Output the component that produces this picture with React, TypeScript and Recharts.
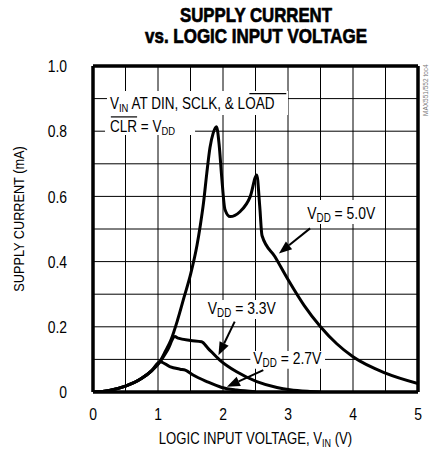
import React from "react";
import {
  LineChart,
  Line,
  XAxis,
  YAxis,
  CartesianGrid,
  ReferenceLine,
  ReferenceArea,
} from "recharts";

// ---- data ----
const xTicks = [0, 0.5, 1, 1.5, 2, 2.5, 3, 3.5, 4, 4.5, 5];
const yTicks = [0, 0.1, 0.2, 0.3, 0.4, 0.5, 0.6, 0.7, 0.8, 0.9, 1.0];

const vin50 = [0, 0.25, 0.5, 0.75, 0.9, 1.03, 1.1, 1.2, 1.3, 1.4, 1.5, 1.6, 1.65, 1.7, 1.75, 1.8, 1.85, 1.9, 1.94, 1.98, 2.03, 2.11, 2.26, 2.42, 2.52, 2.565, 2.6, 2.8, 3.0, 3.25, 3.5, 3.75, 4.0, 4.5, 5.0];
const idd50 = [0, 0.005, 0.018, 0.042, 0.065, 0.093, 0.12, 0.16, 0.22, 0.29, 0.36, 0.45, 0.51, 0.58, 0.67, 0.75, 0.795, 0.814, 0.76, 0.66, 0.56, 0.538, 0.553, 0.6, 0.666, 0.57, 0.48, 0.415, 0.345, 0.265, 0.2, 0.148, 0.108, 0.058, 0.026];

const vin33 = [0, 0.25, 0.5, 0.75, 0.9, 1.03, 1.15, 1.26, 1.31, 1.5, 1.67, 1.77, 1.95, 2.21, 2.52, 2.83, 3.03, 3.3, 3.5];
const idd33 = [0, 0.005, 0.018, 0.042, 0.065, 0.093, 0.13, 0.17, 0.165, 0.158, 0.154, 0.134, 0.098, 0.062, 0.032, 0.014, 0.007, 0.002, 0];

const vin27 = [0, 0.25, 0.5, 0.75, 0.9, 1.03, 1.18, 1.34, 1.42, 1.54, 1.75, 1.98, 2.21, 2.5];
const idd27 = [0, 0.005, 0.018, 0.042, 0.065, 0.093, 0.078, 0.07, 0.067, 0.052, 0.032, 0.014, 0.006, 0.001];

const toPoints = (xs: number[], ys: number[]) => xs.map((x, i) => ({ x, y: ys[i] }));
const data50 = toPoints(vin50, idd50);
const data33 = toPoints(vin33, idd33);
const data27 = toPoints(vin27, idd27);

const FONT = "'Liberation Sans', Arial, sans-serif";
const INK = "#000";
const SX = 0.82; // horizontal squeeze to mimic a narrow face

const Arrow = (p: any) => {
  const { x1, y1, x2, y2 } = p;
  if ([x1, y1, x2, y2].some((v) => typeof v !== "number" || isNaN(v))) return null;
  const ang = Math.atan2(y2 - y1, x2 - x1);
  const L = 13;
  const W = 5;
  const bx = x2 - L * Math.cos(ang);
  const by = y2 - L * Math.sin(ang);
  const px = -Math.sin(ang) * W;
  const py = Math.cos(ang) * W;
  return (
    <g>
      <line x1={x1} y1={y1} x2={bx} y2={by} stroke={INK} strokeWidth={2} />
      <polygon points={`${x2},${y2} ${bx + px},${by + py} ${bx - px},${by - py}`} fill={INK} />
    </g>
  );
};

const VddLabel = ({ viewBox, value }: any) => {
  if (!viewBox) return null;
  const { x, y, height } = viewBox;
  return (
    <g transform={`translate(${x + 3},${y + height - 5}) scale(${SX},1)`}>
      <text x={0} y={0} fontFamily={FONT} fontSize={17} fill={INK}>
        V
        <tspan fontSize={12} dy={3}>DD</tspan>
        <tspan dy={-3}>{` = ${value}`}</tspan>
      </text>
    </g>
  );
};

const TopLabel1 = ({ viewBox }: any) => {
  if (!viewBox) return null;
  const { x, y } = viewBox;
  // LOAD starts at ~169.8 and is ~44.9 wide in unscaled units at 16.5px
  return (
    <g transform={`translate(${x + 3},${y + 18}) scale(${SX},1)`}>
      <text x={0} y={0} fontFamily={FONT} fontSize={16.5} fill={INK}>
        V<tspan fontSize={11.5} dy={3}>IN</tspan>
        <tspan dy={-3}> AT DIN, SCLK, &amp; LOAD</tspan>
      </text>
      <line x1={170} x2={215} y1={-15.5} y2={-15.5} stroke={INK} strokeWidth={1.2} />
    </g>
  );
};

const TopLabel2 = ({ viewBox }: any) => {
  if (!viewBox) return null;
  const { x, y } = viewBox;
  return (
    <g transform={`translate(${x + 5},${y + 17}) scale(${SX},1)`}>
      <text x={0} y={0} fontFamily={FONT} fontSize={16.5} fill={INK}>
        CLR =  V<tspan fontSize={11.5} dy={3}>DD</tspan>
      </text>
      <line x1={1} x2={33} y1={-15} y2={-15} stroke={INK} strokeWidth={1.2} />
    </g>
  );
};

const XLabel = ({ viewBox }: any) => {
  if (!viewBox) return null;
  const { x, y, width } = viewBox;
  return (
    <g transform={`translate(${x + width / 2},${y + 52}) scale(${SX},1)`}>
      <text x={0} y={0} textAnchor="middle" fontFamily={FONT} fontSize={16} fill={INK}>
        LOGIC INPUT VOLTAGE, V<tspan fontSize={11} dy={3}>IN</tspan>
        <tspan dy={-3}> (V)</tspan>
      </text>
    </g>
  );
};

const YLabel = () => (
  <g transform={`translate(24,219) rotate(-90) scale(${SX},1)`}>
    <text x={0} y={0} textAnchor="middle" fontFamily={FONT} fontSize={15.5} fill={INK}>
      SUPPLY CURRENT (mA)
    </text>
  </g>
);

const XTick = ({ x, y, payload }: any) => {
  const v = payload?.value;
  if (!Number.isInteger(v)) return null;
  return (
    <g transform={`translate(${x},${y}) scale(${SX},1)`}>
      <text x={0} y={0} dy="0.71em" textAnchor="middle" fontFamily={FONT} fontSize={17} fill={INK}>
        {String(v)}
      </text>
    </g>
  );
};

const YTick = ({ x, y, payload }: any) => {
  const v = payload?.value;
  if (Math.round(v * 10) % 2 !== 0) return null;
  return (
    <g transform={`translate(${x},${y}) scale(${SX},1)`}>
      <text x={0} y={0} dy="0.36em" textAnchor="end" fontFamily={FONT} fontSize={17} fill={INK}>
        {v === 0 ? "0" : v.toFixed(1)}
      </text>
    </g>
  );
};

export default function App() {
  return (
    <div style={{ position: "absolute", left: 0, top: 0, width: 429, height: 455, background: "#fff" }}>
      <div style={{ position: "absolute", left: 0, top: 0 }}>
        <LineChart
          width={429}
          height={455}
          margin={{ top: 66, right: 11, bottom: 0, left: 0 }}
        >
          <CartesianGrid stroke={INK} strokeWidth={1} />
          <XAxis
            type="number"
            dataKey="x"
            domain={[0, 5]}
            ticks={xTicks}
            interval={0}
            axisLine={false}
            tickLine={false}
            tickSize={0}
            tickMargin={16}
            height={63}
            tick={<XTick />}
            label={<XLabel />}
            allowDataOverflow
          />
          <YAxis
            type="number"
            dataKey="y"
            domain={[0, 1]}
            ticks={yTicks}
            interval={0}
            axisLine={false}
            tickLine={false}
            tickSize={0}
            tickMargin={26}
            width={93}
            tick={<YTick />}
            label={<YLabel />}
            allowDataOverflow
          />

          {/* white boxes behind annotations */}
          <ReferenceArea x1={0.215} x2={3.0} y1={0.85} y2={0.923} fill="#fff" fillOpacity={1} stroke="none" label={<TopLabel1 />} />
          <ReferenceArea x1={0.185} x2={1.57} y1={0.788} y2={0.85} fill="#fff" fillOpacity={1} stroke="none" label={<TopLabel2 />} />
          <ReferenceArea x1={3.25} x2={4.43} y1={0.515} y2={0.589} fill="#fff" fillOpacity={1} stroke="none" label={<VddLabel value="5.0V" />} />
          <ReferenceArea x1={1.72} x2={2.88} y1={0.224} y2={0.282} fill="#fff" fillOpacity={1} stroke="none" label={<VddLabel value="3.3V" />} />
          <ReferenceArea x1={2.42} x2={3.57} y1={0.071} y2={0.126} fill="#fff" fillOpacity={1} stroke="none" label={<VddLabel value="2.7V" />} />

          <Line data={data50} dataKey="y" type="monotone" stroke={INK} strokeWidth={3} dot={false} isAnimationActive={false} />
          <Line data={data33} dataKey="y" type="monotone" stroke={INK} strokeWidth={3} dot={false} isAnimationActive={false} />
          <Line data={data27} dataKey="y" type="monotone" stroke={INK} strokeWidth={3} dot={false} isAnimationActive={false} />

          {/* arrows */}
          <ReferenceLine segment={[{ x: 3.34, y: 0.502 }, { x: 2.86, y: 0.425 }]} shape={<Arrow />} />
          <ReferenceLine segment={[{ x: 2.18, y: 0.216 }, { x: 1.93, y: 0.113 }]} shape={<Arrow />} />
          <ReferenceLine segment={[{ x: 2.62, y: 0.067 }, { x: 2.06, y: 0.016 }]} shape={<Arrow />} />

          {/* frame */}
          <ReferenceLine x={0} stroke={INK} strokeWidth={3.5} />
          <ReferenceLine x={5} stroke={INK} strokeWidth={3.5} />
          <ReferenceLine y={0} stroke={INK} strokeWidth={3.5} />
          <ReferenceLine y={1} stroke={INK} strokeWidth={3.5} />
        </LineChart>
      </div>
      <svg
        style={{ position: "absolute", left: 0, top: 0 }}
        width={429}
        height={455}
        pointerEvents="none"
      >
        <text
          x={256}
          y={22}
          textAnchor="middle"
          textLength={152}
          lengthAdjust="spacingAndGlyphs"
          fontFamily={FONT}
          fontWeight={700}
          fontSize={21}
          fill={INK}
          stroke={INK}
          strokeWidth={0.7}
        >
          SUPPLY CURRENT
        </text>
        <text
          x={256}
          y={43}
          textAnchor="middle"
          textLength={222}
          lengthAdjust="spacingAndGlyphs"
          fontFamily={FONT}
          fontWeight={700}
          fontSize={21}
          fill={INK}
          stroke={INK}
          strokeWidth={0.7}
        >
          vs. LOGIC INPUT VOLTAGE
        </text>
        <text
          transform="translate(428,116) rotate(-90)"
          fontFamily={FONT}
          fontSize={6.5}
          fill="#777"
        >
          MAX551/552 toc4
        </text>
      </svg>
    </div>
  );
}
